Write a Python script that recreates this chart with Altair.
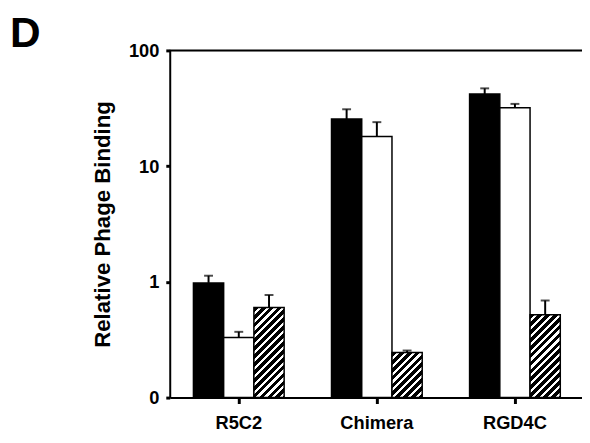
import math
import altair as alt
import pandas as pd

categories = ["R5C2", "Chimera", "RGD4C"]
groups = ["solid", "open", "hatched"]
solid_vals = [0.98, 25.5, 42.0]
open_vals = [0.33, 18.0, 32.0]
hatched_vals = [0.60, 0.245, 0.52]
solid_upper = [1.13, 31.0, 47.0]
open_upper = [0.37, 24.0, 34.5]
hatched_upper = [0.77, 0.255, 0.69]
y_ticks = [0.1, 1, 10, 100]

rows = []
for i, c in enumerate(categories):
    for g, vals, ups in zip(groups, [solid_vals, open_vals, hatched_vals],
                            [solid_upper, open_upper, hatched_upper]):
        rows.append(dict(category=c, group=g, value=vals[i], upper=ups[i], base=0.1))
df = pd.DataFrame(rows)

FONT = "Liberation Sans"
WIDTH = 418
RANGE_W = 420
HEIGHT = 352
P_IN = 0.343
P_OUT = P_IN / 2

x_enc = alt.X(
    "category:N",
    scale=alt.Scale(domain=categories, range=[0, RANGE_W], paddingInner=P_IN, paddingOuter=P_OUT),
    axis=alt.Axis(title=None, labelAngle=0, labelFont=FONT, labelFontSize=18.5, labelFontWeight="bold",
                  labelColor="black", tickSize=6, tickWidth=3, tickColor="black", labelPadding=10,
                  domainColor="black", domainWidth=2, grid=False),
)
xoff_enc = alt.XOffset("group:N", scale=alt.Scale(domain=groups, paddingInner=0, paddingOuter=0))
y_scale = alt.Scale(type="log", domain=[0.1, 100], nice=False)
y_axis = alt.Axis(
    values=y_ticks,
    labelExpr="datum.value < 0.5 ? '0' : format(datum.value, 'd')",
    title="Relative Phage Binding", titleFont=FONT, titleFontSize=22.5, titleFontWeight="bold",
    titleColor="black", titlePadding=14,
    labelFont=FONT, labelFontSize=18.5, labelFontWeight="bold", labelColor="black",
    tickSize=4, tickWidth=3, tickColor="black", labelPadding=7,
    domainColor="black", domainWidth=2, grid=False,
)

base = alt.Chart(df)

plain_bars = base.transform_filter(alt.datum.group != "hatched").mark_bar(
    stroke="black", strokeWidth=1.5
).encode(
    x=x_enc, xOffset=xoff_enc,
    y=alt.Y("value:Q", scale=y_scale, axis=y_axis),
    y2=alt.Y2("base:Q"),
    fill=alt.Fill("group:N", scale=alt.Scale(domain=["solid", "open"], range=["black", "white"]), legend=None),
)

# hatch gradient per hatched bar (stripes "/" with a fixed pixel period)
band = RANGE_W / (len(categories) - P_IN + 2 * P_OUT) * (1 - P_IN)
bar_w = band / 3
period = 8.0
black_frac = 0.6


def ypix(v):
    return HEIGHT * (math.log10(v) + 1) / 3


hatch_layers = []
for i, c in enumerate(categories):
    h = ypix(hatched_vals[i])
    w = bar_w
    lam = (w + h) / (w * w + h * h)
    n = (w + h) / period
    stops = []
    k = 0
    while k < n:
        a = k / n
        b = min((k + black_frac) / n, 1)
        e = min((k + 1) / n, 1)
        stops.append(alt.GradientStop(offset=a, color="black"))
        stops.append(alt.GradientStop(offset=b, color="black"))
        if b < 1:
            stops.append(alt.GradientStop(offset=b, color="white"))
            stops.append(alt.GradientStop(offset=e, color="white"))
        k += 1
    grad = alt.LinearGradient(gradient="linear", stops=stops, x1=0, y1=0, x2=w * lam, y2=h * lam)
    layer = base.transform_filter(
        (alt.datum.group == "hatched") & (alt.datum.category == c)
    ).mark_bar(fill=grad, stroke="black", strokeWidth=1.5).encode(
        x=x_enc, xOffset=xoff_enc,
        y=alt.Y("value:Q", scale=y_scale, axis=y_axis),
        y2=alt.Y2("base:Q"),
    )
    hatch_layers.append(layer)

err_rule = base.mark_rule(color="black", strokeWidth=2).encode(
    x=x_enc, xOffset=xoff_enc,
    y=alt.Y("value:Q", scale=y_scale, axis=y_axis),
    y2=alt.Y2("upper:Q"),
)
err_cap = base.mark_tick(color="black", thickness=2, size=9, orient="horizontal").encode(
    x=x_enc, xOffset=xoff_enc,
    y=alt.Y("upper:Q", scale=y_scale, axis=y_axis),
)

top_line = alt.Chart(pd.DataFrame({"k": [0]})).mark_rule(color="black", strokeWidth=2).encode(
    x=alt.value(0), x2=alt.value(RANGE_W), y=alt.value(0)
)

panel_label = alt.Chart(pd.DataFrame({"k": [0]})).mark_text(
    text="D", font=FONT, fontSize=43, fontWeight="bold", color="black",
    align="left", baseline="alphabetic"
).encode(x=alt.value(-162), y=alt.value(-3))

chart = alt.layer(err_rule, err_cap, plain_bars, *hatch_layers, top_line, panel_label).properties(
    width=WIDTH, height=HEIGHT,
    autosize=alt.AutoSizeParams(type="none"),
    padding={"left": 164, "top": 40, "right": 0, "bottom": 40},
).configure_view(stroke=None).configure(background="white")

chart.save("out.html", embed_options={"renderer": "svg", "actions": False})
